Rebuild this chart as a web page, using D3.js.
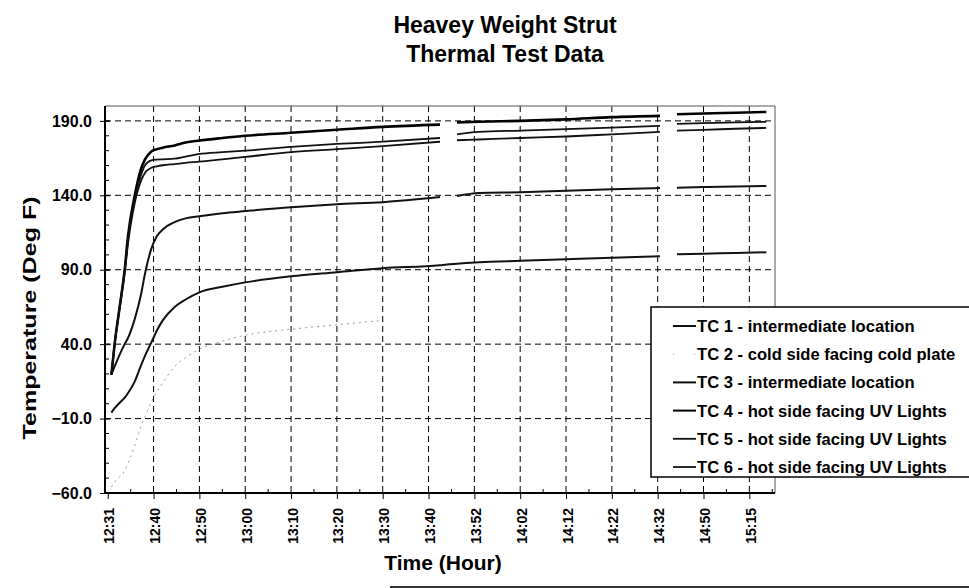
<!DOCTYPE html>
<html>
<head>
<meta charset="utf-8">
<script src="https://cdn.jsdelivr.net/npm/d3@7"></script>
<style>
  body { margin: 0; background: #fff; }
  svg { display: block; font-family: "Liberation Sans", Arial, sans-serif; }
</style>
</head>
<body>
<div id="chart"></div>
<script>
// x = sample index, tick labels every 10 samples
var timeLabels = ["12:31", "12:40", "12:50", "13:00", "13:10", "13:20", "13:30", "13:40",
                  "13:52", "14:02", "14:12", "14:22", "14:32", "14:50", "15:15"];
var yTicks = [-60, -10, 40, 90, 140, 190];

var sampleIdx = [0.8, 1.5, 2.6, 3.7, 4.4, 5.9, 7.3, 8.1, 9.5, 10.7, 12, 14.6, 17, 20, 25, 30,
                 40, 50, 60, 72.5, 74, 76.2, 81, 90, 100, 110, 120.5, 122, 124.2, 130, 137, 143.7];

var tc1 = [-6, -3, 0.6, 4, 7, 15, 26, 32, 41, 49, 56, 65, 70, 74.8, 78.5, 81.5,
           85.6, 88.3, 91, 93, 93.5, 94, 95, 96, 97, 98, 99, null, 100.4, 100.8, 101.2, 101.7];
var tc2 = [-56, -52.6, -49, -45, -40, -28, -15, -9, 1, 8, 14, 25, 31, 36.5, 42, 46,
           50, 53, 56, null, null, null, null, null, null, null, null, null, null, null, null, null];
var tc3 = [19.5, 25, 33, 40, 44, 57, 74, 87, 104, 112.5, 117, 122, 124.5, 126, 128, 129.4,
           132, 134, 135.4, 138.8, null, 139.5, 141.5, 142, 143, 144, 144.9, null, 145, 145.5, 146, 146.2];
var tc4 = [19.5, 40, 65, 90, 112, 140, 158, 164, 169.5, 171, 172, 173.5, 175.5, 176.8, 178.5, 180,
           182, 184, 186, 187.5, null, 189, 189.4, 190, 191, 192.5, 193.4, null, 194.5, 195, 195.5, 196];
var tc5 = [19.5, 40, 65, 90, 110, 138, 154, 160, 163.5, 164, 164.2, 164.6, 166, 167.8, 169, 170,
           172.5, 174.5, 176, 178.5, null, 181, 182.6, 183.5, 184.5, 185.5, 186.7, null, 188, 188.5, 189, 189.4];
var tc6 = [19.5, 40, 64, 88, 107, 135, 150, 155, 158.5, 159.5, 160.2, 161, 161.8, 162.6, 164.2, 165.8,
           169, 171, 173, 176, null, 177, 177.5, 178.5, 179.5, 181, 182.6, null, 183.5, 184, 184.7, 185.3];

var seriesNames = ["TC 1 - intermediate location", "TC 2 - cold side facing cold plate",
                   "TC 3 - intermediate location", "TC 4 - hot side facing UV Lights",
                   "TC 5 - hot side facing UV Lights", "TC 6 - hot side facing UV Lights"];

var series = [
    {name: seriesNames[0], values: tc1, color: "#111", width: 2, dash: null},
    {name: seriesNames[1], values: tc2, color: "#999", width: 1, dash: "2,4"},
    {name: seriesNames[2], values: tc3, color: "#111", width: 2, dash: null},
    {name: seriesNames[3], values: tc4, color: "#000", width: 2.6, dash: null},
    {name: seriesNames[4], values: tc5, color: "#111", width: 1.8, dash: null},
    {name: seriesNames[5], values: tc6, color: "#111", width: 1.8, dash: null}
];

var W = 969, H = 588;
var plotL = 105, plotR = 775, plotT = 106, plotB = 493;

var svg = d3.select("#chart").append("svg")
    .attr("width", W)
    .attr("height", H);

var x = d3.scaleLinear().domain([-0.6, 145.6]).range([plotL, plotR]);
var y = d3.scaleLinear().domain([-60, 200]).range([plotB, plotT]);

// title
svg.append("text").attr("x", 505).attr("y", 33).attr("text-anchor", "middle")
    .style("font-size", "23px").style("font-weight", "bold").text("Heavey Weight Strut");
svg.append("text").attr("x", 505).attr("y", 62).attr("text-anchor", "middle")
    .style("font-size", "23px").style("font-weight", "bold").text("Thermal Test Data");

// grid
var xMajor = d3.range(timeLabels.length).map(i => i * 10);
svg.append("g").selectAll("line").data(xMajor.slice(1)).enter().append("line")
    .attr("x1", d => x(d)).attr("x2", d => x(d))
    .attr("y1", plotT).attr("y2", plotB)
    .attr("stroke", "#000").attr("stroke-width", 1).attr("stroke-dasharray", "6,4");
svg.append("g").selectAll("line").data(yTicks.slice(1)).enter().append("line")
    .attr("x1", plotL).attr("x2", plotR)
    .attr("y1", d => y(d)).attr("y2", d => y(d))
    .attr("stroke", "#000").attr("stroke-width", 1).attr("stroke-dasharray", "6,4");

// top and right border
svg.append("path")
    .attr("d", "M" + plotL + "," + plotT + "H" + plotR + "V" + plotB)
    .attr("fill", "none").attr("stroke", "#555").attr("stroke-width", 1);

// lines
var line = d3.line()
    .defined(d => d[1] != null)
    .x(d => x(d[0]))
    .y(d => y(d[1]))
    .curve(d3.curveMonotoneX);

series.forEach(function(s) {
    svg.append("path")
        .datum(sampleIdx.map((t, i) => [t, s.values[i]]))
        .attr("d", line)
        .attr("fill", "none")
        .attr("stroke", s.color)
        .attr("stroke-width", s.width)
        .attr("stroke-dasharray", s.dash)
        .attr("stroke-linejoin", "round");
});

// y axis
var yAxis = svg.append("g")
    .attr("transform", "translate(" + plotL + ",0)")
    .call(d3.axisLeft(y).tickValues(yTicks).tickSize(5).tickPadding(8).tickFormat(d3.format(".1f")));
yAxis.select(".domain").attr("stroke-width", 2).attr("d", "M0," + plotT + "V" + plotB);
yAxis.selectAll(".tick line").attr("x2", -5).attr("x1", 5);
yAxis.selectAll("text").style("font-size", "16px").style("font-weight", "bold").attr("fill", "#000");
svg.append("g").selectAll("line").data(d3.range(-50, 200, 10)).enter().append("line")
    .attr("x1", plotL).attr("x2", plotL + 4)
    .attr("y1", d => y(d)).attr("y2", d => y(d))
    .attr("stroke", "#000");

// x axis
var xAxis = svg.append("g")
    .attr("transform", "translate(0," + plotB + ")")
    .call(d3.axisBottom(x).tickValues(xMajor).tickSize(6).tickFormat((d, i) => timeLabels[i]));
xAxis.select(".domain").attr("stroke-width", 2).attr("d", "M" + plotL + ",0H" + plotR);
xAxis.selectAll("text")
    .attr("transform", "rotate(-90)")
    .attr("text-anchor", "end")
    .attr("x", -15).attr("y", 6).attr("dy", 0)
    .style("font-size", "14px").style("font-weight", "bold").attr("fill", "#000");
svg.append("g").selectAll("line").data(d3.range(5, 146, 10)).enter().append("line")
    .attr("x1", d => x(d)).attr("x2", d => x(d))
    .attr("y1", plotB).attr("y2", plotB - 4)
    .attr("stroke", "#000");

// axis titles
svg.append("text")
    .attr("transform", "translate(36," + 318 + ") rotate(-90)")
    .attr("text-anchor", "middle")
    .attr("textLength", 243).attr("lengthAdjust", "spacingAndGlyphs")
    .style("font-size", "19px").style("font-weight", "bold")
    .text("Temperature (Deg F)");
svg.append("text")
    .attr("x", 443).attr("y", 570).attr("text-anchor", "middle")
    .style("font-size", "21px").style("font-weight", "bold")
    .text("Time (Hour)");

// legend
var legend = svg.append("g");
legend.append("rect")
    .attr("x", 651).attr("y", 307).attr("width", 330).attr("height", 170)
    .attr("fill", "#fff").attr("stroke", "#000").attr("stroke-width", 1.5);
series.forEach(function(s, i) {
    var by = 332 + i * 28.2;
    legend.append("line")
        .attr("x1", 673).attr("x2", 696)
        .attr("y1", by - 6).attr("y2", by - 6)
        .attr("stroke", s.color)
        .attr("stroke-width", s.dash ? 1 : Math.min(s.width, 2))
        .attr("stroke-dasharray", s.dash ? "1,20" : null);
    legend.append("text")
        .attr("x", 697).attr("y", by)
        .style("font-size", "16.6px").style("font-weight", "bold")
        .text(s.name);
});

// scan edge along the bottom
svg.append("line")
    .attr("x1", 390).attr("x2", W).attr("y1", 587).attr("y2", 587)
    .attr("stroke", "#333").attr("stroke-width", 2);
</script>
</body>
</html>
